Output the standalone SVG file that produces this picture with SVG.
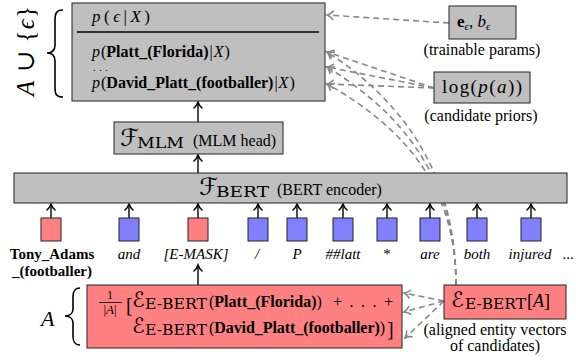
<svg xmlns="http://www.w3.org/2000/svg" width="576" height="360" viewBox="0 0 576 360">
<defs>
<style>
.gray{fill:#bfbfbf;stroke:#222;stroke-width:1}
.red{fill:#ff8080;stroke:#222;stroke-width:1}
.blue{fill:#8080ff;stroke:#222;stroke-width:1}
.t{font-family:"Liberation Serif","DejaVu Serif",serif;font-size:16px;fill:#000}
.tok{font-family:"Liberation Serif","DejaVu Serif",serif;font-size:15px;fill:#000;text-anchor:middle}
.it{font-style:italic}
.b{font-weight:bold}
.cal{font-family:"DejaVu Serif","DejaVu Sans",serif;font-style:italic}
.sub{font-family:"DejaVu Serif","Liberation Serif",serif;font-size:14.5px}
.arr{stroke:#000;stroke-width:1.4;fill:none;marker-end:url(#ah)}
.dash{stroke:#888;stroke-width:1.6;stroke-dasharray:6 4;fill:none;marker-end:url(#ahg)}
.brace{fill:none;stroke:#000;stroke-width:1.6}
</style>
<marker id="ah" markerUnits="userSpaceOnUse" viewBox="-8 -6 10 12" refX="0" refY="0" markerWidth="10" markerHeight="12" orient="auto">
<path d="M-6,-4 C-4,-1.5 -1.5,-0.5 0,0 C-1.5,0.5 -4,1.5 -6,4" fill="none" stroke="#000" stroke-width="1.5" stroke-linecap="round"/>
</marker>
<marker id="ahg" markerUnits="userSpaceOnUse" viewBox="-8 -6 10 12" refX="0" refY="0" markerWidth="10" markerHeight="12" orient="auto">
<path d="M-6,-4 C-4,-1.5 -1.5,-0.5 0,0 C-1.5,0.5 -4,1.5 -6,4" fill="none" stroke="#888" stroke-width="1.6" stroke-linecap="round"/>
</marker>
</defs>

<g id="connectors">
<path class="arr" d="M198,173 V155"/>
<path class="arr" d="M198,122 V102"/>
<path class="arr" d="M51,218 V204"/>
<path class="arr" d="M129,218 V204"/>
<path class="arr" d="M198,218 V204"/>
<path class="arr" d="M258,218 V204"/>
<path class="arr" d="M297,218 V204"/>
<path class="arr" d="M343,218 V204"/>
<path class="arr" d="M387,218 V204"/>
<path class="arr" d="M430,218 V204"/>
<path class="arr" d="M477,218 V204"/>
<path class="arr" d="M531,218 V204"/>
<path class="arr" d="M198,285 V265"/>
<path class="dash" d="M449,23 L327,15"/>
<path class="dash" d="M434,88 L327,52"/>
<path class="dash" d="M434,88 L327,67"/>
<path class="dash" d="M434,88 L327,84"/>
<path class="dash" d="M456,285 C456,200 425,115 327,52"/>
<path class="dash" d="M456,285 C456,200 422,125 327,67"/>
<path class="dash" d="M456,285 C456,200 418,135 327,84"/>
<path class="dash" d="M444,301 L404,293"/>
<path class="dash" d="M444,301 L404,312"/>
<path class="dash" d="M444,301 L405,338"/>
</g>

<g id="output-box">
<rect class="gray" x="72" y="3" width="253" height="98"/>
<line x1="77" y1="32" x2="319" y2="32" stroke="#000" stroke-width="1.6"/>
<text class="t" x="92" y="22" textLength="58" style="font-size:17px"><tspan class="it">p</tspan>(<tspan class="it">ϵ</tspan>|<tspan class="it">X</tspan>)</text>
<text class="t" x="92" y="57"><tspan class="it">p</tspan><tspan dx="1">(</tspan><tspan class="b">Platt_(Florida)</tspan><tspan dx="1">|</tspan><tspan class="it" dx="1">X</tspan><tspan dx="1">)</tspan></text>
<text class="t" x="93" y="71" style="font-size:11px" textLength="15">. . .</text>
<text class="t" x="92" y="88"><tspan class="it">p</tspan><tspan dx="1">(</tspan><tspan class="b">David_Platt_(footballer)</tspan><tspan dx="1">|</tspan><tspan class="it" dx="1">X</tspan><tspan dx="1">)</tspan></text>
</g>

<g id="set-label">
<text class="t" transform="translate(34,51) rotate(-90)" x="0" y="0" text-anchor="middle" style="font-size:25px" textLength="90"><tspan class="it">A</tspan> ∪ {<tspan class="it">ϵ</tspan>}</text>
<path class="brace" d="M63,10 C56,10 55,14 55,20 L55,45 C55,50 52,53 47,53 C52,53 55,56 55,61 L55,88 C55,94 56,97 63,97"/>
</g>

<g id="mlm-head">
<rect class="gray" x="114" y="122" width="169" height="32"/>
<text class="cal" x="120" y="146" style="font-size:24px">ℱ</text>
<text class="sub" x="137" y="148" textLength="47" lengthAdjust="spacingAndGlyphs">MLM</text>
<text class="t" x="193" y="146">(MLM head)</text>
</g>

<g id="bert-encoder">
<rect class="gray" x="14" y="173" width="553" height="30"/>
<text class="cal" x="199" y="195" style="font-size:24px">ℱ</text>
<text class="sub" x="216" y="197" textLength="53" lengthAdjust="spacingAndGlyphs">BERT</text>
<text class="t" x="277" y="195">(BERT encoder)</text>
</g>

<g id="tokens">
<rect class="red" x="41" y="218" width="20" height="23"/>
<rect class="blue" x="119" y="218" width="20" height="23"/>
<rect class="red" x="188" y="218" width="20" height="23"/>
<rect class="blue" x="248" y="218" width="20" height="23"/>
<rect class="blue" x="287" y="218" width="20" height="23"/>
<rect class="blue" x="333" y="218" width="20" height="23"/>
<rect class="blue" x="377" y="218" width="20" height="23"/>
<rect class="blue" x="420" y="218" width="20" height="23"/>
<rect class="blue" x="467" y="218" width="20" height="23"/>
<rect class="blue" x="521" y="218" width="20" height="23"/>
<text class="tok b" x="52" y="259">Tony_Adams</text>
<text class="tok b" x="52" y="276">_(footballer)</text>
<text class="tok it" x="129" y="259">and</text>
<text class="tok it" x="196" y="259">[E-MASK]</text>
<text class="tok it" x="257" y="259">/</text>
<text class="tok it" x="297" y="259">P</text>
<text class="tok it" x="343" y="259">##latt</text>
<text class="tok" x="387" y="259">*</text>
<text class="tok it" x="430" y="259">are</text>
<text class="tok it" x="477" y="259">both</text>
<text class="tok it" x="530" y="259">injured</text>
<text class="tok" x="568" y="259">...</text>
</g>

<g id="entity-input">
<rect class="red" x="87" y="285" width="315" height="63"/>
<text class="t" x="110" y="299" text-anchor="middle" style="font-size:12px">1</text>
<line x1="99" y1="302.5" x2="122" y2="302.5" stroke="#000" stroke-width="0.8"/>
<text class="t" x="110" y="314" text-anchor="middle" style="font-size:13px">|<tspan class="it">A</tspan>|</text>
<text class="t" x="126" y="312" style="font-size:20px">[</text>
<text class="cal" x="132" y="307" style="font-size:21px">ℰ</text>
<text class="sub" x="145" y="309" textLength="62" lengthAdjust="spacingAndGlyphs">E-BERT</text>
<text class="t" x="209" y="307">(<tspan class="b">Platt_(Florida)</tspan>)</text>
<text class="t" x="333" y="307" textLength="60">+ . . . +</text>
<text class="cal" x="132" y="333" style="font-size:21px">ℰ</text>
<text class="sub" x="145" y="335" textLength="62" lengthAdjust="spacingAndGlyphs">E-BERT</text>
<text class="t" x="209" y="333" textLength="176">(<tspan class="b">David_Platt_(footballer)</tspan>)</text>
<text class="t" x="387" y="336" style="font-size:20px">]</text>
</g>

<g id="entity-set-label">
<text class="t it" x="41" y="326" style="font-size:22px">A</text>
<path class="brace" d="M80,288 C74,288 73,292 73,297 L73,309 C73,313 70,316 65,316 C70,316 73,319 73,323 L73,336 C73,341 74,345 80,345"/>
</g>

<g id="aligned-vectors">
<rect class="red" x="444" y="285" width="122" height="34"/>
<text class="cal" x="451" y="307" style="font-size:21px">ℰ</text>
<text class="sub" x="465" y="309" textLength="61" lengthAdjust="spacingAndGlyphs">E-BERT</text>
<text class="t" x="527" y="307" style="font-size:18px">[<tspan class="it">A</tspan>]</text>
<text class="t" x="495" y="335" text-anchor="middle">(aligned entity vectors</text>
<text class="t" x="495" y="351" text-anchor="middle">of candidates)</text>
</g>

<g id="trainable-params">
<rect class="gray" x="449" y="6" width="67" height="33"/>
<text class="t" x="457" y="27" style="font-size:17px"><tspan class="b">e</tspan><tspan class="it" dy="3" style="font-size:11px">ϵ</tspan><tspan dy="-3">, </tspan><tspan class="it">b</tspan><tspan class="it" dy="3" style="font-size:11px">ϵ</tspan></text>
<text class="t" x="482" y="55" text-anchor="middle">(trainable params)</text>
</g>

<g id="candidate-priors">
<rect class="gray" x="434" y="72" width="96" height="31"/>
<text class="t" x="442" y="93" style="font-size:19px" textLength="80">log(<tspan class="it">p</tspan>(<tspan class="it">a</tspan>))</text>
<text class="t" x="481" y="121" text-anchor="middle">(candidate priors)</text>
</g>
</svg>
